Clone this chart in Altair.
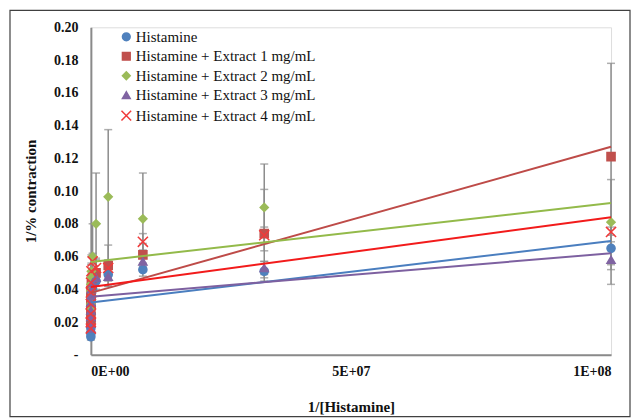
import altair as alt
import pandas as pd

SERIES = [
    "Histamine",
    "Histamine + Extract 1 mg/mL",
    "Histamine + Extract 2 mg/mL",
    "Histamine + Extract 3 mg/mL",
    "Histamine + Extract 4 mg/mL",
]

# 1/[Histamine]
X_VALUES = [1e8, 3.333e7, 1e7, 3.333e6, 1e6, 3.333e5, 1e5, 3.333e4, 1e4, 3.333e3, 1e3, 333, 100]

Y_HIST = [0.065, 0.051, 0.052, 0.049, 0.045, 0.040, 0.035, 0.030, 0.025, 0.020, 0.016, 0.013, 0.011]
Y_EXT1 = [0.121, 0.074, 0.061, 0.0545, 0.050, 0.047, 0.043, 0.039, 0.035, 0.031, 0.027, 0.023, 0.020]
Y_EXT2 = [0.081, 0.090, 0.083, 0.0965, 0.080, 0.060, 0.051, 0.047, 0.043, 0.039, 0.035, 0.031, 0.028]
Y_EXT3 = [0.058, 0.053, 0.057, 0.0477, 0.047, 0.044, 0.040, 0.036, 0.032, 0.027, 0.023, 0.019, 0.016]
Y_EXT4 = [0.075, 0.073, 0.069, 0.053, 0.053, 0.057, 0.051, 0.044, 0.038, 0.031, 0.025, 0.020, 0.016]

E_HIST = [0.013, 0.006, 0.004, 0.004, 0.005, 0.004, 0.004, 0.003, 0.003, 0.003, 0.002, 0.002, 0.002]
E_EXT1 = [0.057, 0.027, 0.007, 0.0125, 0.008, 0.006, 0.005, 0.005, 0.004, 0.004, 0.003, 0.003, 0.003]
E_EXT2 = [0.026, 0.0265, 0.028, 0.041, 0.031, 0.020, 0.010, 0.008, 0.006, 0.005, 0.004, 0.004, 0.003]
E_EXT3 = [0.015, 0.004, 0.005, 0.006, 0.005, 0.005, 0.004, 0.004, 0.003, 0.003, 0.003, 0.002, 0.002]
E_EXT4 = [0.006, 0.005, 0.005, 0.005, 0.006, 0.005, 0.005, 0.004, 0.004, 0.003, 0.003, 0.002, 0.002]

# linear trend lines: value at x = 0 and at x = 1E+08
TREND_X = [0, 1e8]
TREND_START = [0.0319, 0.0378, 0.0567, 0.0355, 0.0414]
TREND_END = [0.0695, 0.127, 0.0927, 0.062, 0.084]

MARKER_COLORS = ["#4F81BD", "#C0504D", "#9BBB59", "#8064A2", "#F03A3A"]
LINE_COLORS = ["#4A7EBF", "#BE4B48", "#93BA4A", "#7D60A0", "#F21B1B"]
SHAPES = ["circle", "square", "diamond", "triangle-up",
          "M-1.25,-1.25L1.25,1.25M1.25,-1.25L-1.25,1.25"]

FONT = "Liberation Serif"

ys = [Y_HIST, Y_EXT1, Y_EXT2, Y_EXT3, Y_EXT4]
es = [E_HIST, E_EXT1, E_EXT2, E_EXT3, E_EXT4]
rows = []
for s, yv, ev in zip(SERIES, ys, es):
    for x, y, e in zip(X_VALUES, yv, ev):
        rows.append({"series": s, "x": x, "y": y, "lo": y - e, "hi": y + e})
df = pd.DataFrame(rows)

trows = []
for s, a, b in zip(SERIES, TREND_START, TREND_END):
    trows.append({"series": s, "x": TREND_X[0], "y": a})
    trows.append({"series": s, "x": TREND_X[1], "y": b})
tdf = pd.DataFrame(trows)

xscale = alt.Scale(domain=[0, 1e8], nice=False, zero=True)
yscale = alt.Scale(domain=[0, 0.2], nice=False)

x_label_expr = (
    "datum.value == 0 ? '0E+00' : "
    "(floor(datum.value / pow(10, floor(log(datum.value)/LN10 + 1e-9)) + 0.5) + 'E+' + "
    "(floor(log(datum.value)/LN10 + 1e-9) < 10 ? '0' : '') + floor(log(datum.value)/LN10 + 1e-9))"
)
y_label_expr = "datum.value == 0 ? '-\u00a0\u00a0\u00a0' : format(datum.value, '.2f')"

X_AXIS = alt.Axis(values=[0, 5e7, 1e8], labelExpr=x_label_expr, grid=False, ticks=False,
                  domainColor="#8A8A8A", domainWidth=2, labelFont=FONT, labelFontSize=14,
                  labelFontWeight="bold", labelColor="#111", labelPadding=10,
                  titleFont=FONT, titleFontSize=15, titleFontWeight="bold", titleColor="#111",
                  titlePadding=21)
Y_AXIS = alt.Axis(values=[0, 0.02, 0.04, 0.06, 0.08, 0.10, 0.12, 0.14, 0.16, 0.18, 0.20],
                  labelExpr=y_label_expr, grid=False, ticks=False,
                  domainColor="#8A8A8A", domainWidth=2, labelFont=FONT, labelFontSize=14,
                  labelFontWeight="bold", labelColor="#111", labelPadding=13,
                  titleFont=FONT, titleFontSize=15, titleFontWeight="bold", titleColor="#111",
                  titlePadding=15)
X_TITLE = "1/[Histamine]"
Y_TITLE = "1/% contraction"


def xe(field="x"):
    return alt.X(f"{field}:Q", scale=xscale, title=X_TITLE, axis=X_AXIS)


def ye(field):
    return alt.Y(f"{field}:Q", scale=yscale, title=Y_TITLE, axis=Y_AXIS)


frame = alt.Chart(pd.DataFrame({"k": [0]})).mark_rect(
    fill="white", fillOpacity=0, stroke="#404040", strokeWidth=1.2
).encode(
    x=alt.value(-81), x2=alt.value(540), y=alt.value(-17), y2=alt.value(390)
)

ERR_COLOR = "#8C8C8C"
bars = alt.Chart(df).mark_rule(color=ERR_COLOR, strokeWidth=1.5).encode(
    x=xe(), y=ye("lo"), y2="hi:Q"
)
caps_lo = alt.Chart(df).mark_tick(orient="horizontal", color=ERR_COLOR, size=8, thickness=1.5).encode(
    x=xe(), y=ye("lo")
)
caps_hi = alt.Chart(df).mark_tick(orient="horizontal", color=ERR_COLOR, size=8, thickness=1.5).encode(
    x=xe(), y=ye("hi")
)

lines = alt.Chart(tdf).mark_line(strokeWidth=2).encode(
    x=xe(),
    y=ye("y"),
    color=alt.Color("series:N", scale=alt.Scale(domain=SERIES, range=LINE_COLORS), legend=None),
    detail="series:N",
)

legend = alt.Legend(
    title=None, orient="none", legendX=28, legendY=2, padding=0,
    labelFont=FONT, labelFontSize=15, labelColor="#111", labelLimit=400,
    symbolSize=60, symbolStrokeWidth=1.5, rowPadding=3.5, labelOffset=2,
)
points = alt.Chart(df).mark_point(filled=True, size=66, strokeWidth=1.5, opacity=1).encode(
    x=xe(),
    y=ye("y"),
    fill=alt.Fill("series:N", scale=alt.Scale(domain=SERIES, range=MARKER_COLORS), legend=legend),
    stroke=alt.Stroke("series:N", scale=alt.Scale(domain=SERIES, range=MARKER_COLORS), legend=legend),
    shape=alt.Shape("series:N", scale=alt.Scale(domain=SERIES, range=SHAPES), legend=legend),
)

chart = alt.layer(frame, bars, caps_lo, caps_hi, points, lines).properties(
    width=521, height=328,
    autosize=alt.AutoSizeParams(type="none"),
    padding={"left": 83, "top": 19, "right": 20, "bottom": 64},
).configure_view(stroke=None).configure(background="white")

chart.save("out.html", embed_options={"renderer": "svg", "actions": False})
